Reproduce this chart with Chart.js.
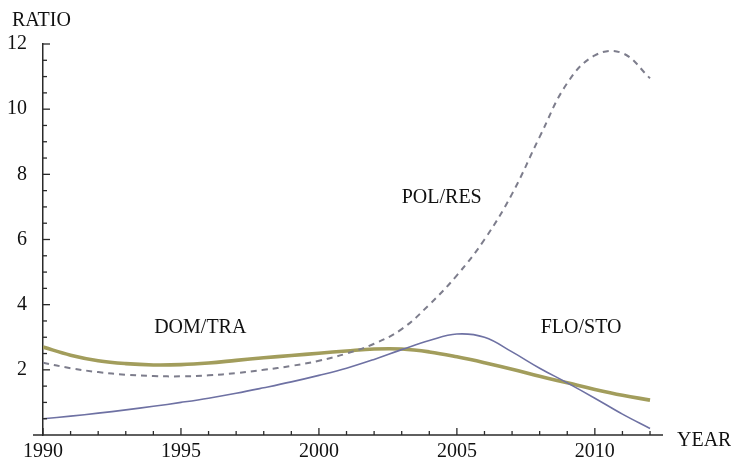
<!DOCTYPE html>
<html>
<head>
<meta charset="utf-8">
<script src="https://cdn.jsdelivr.net/npm/chart.js@4"></script>
<style>
  html, body { margin: 0; padding: 0; background: #fff; }
  #wrap { width: 731px; height: 459px; }
</style>
</head>
<body>
<div id="wrap"><canvas id="chart" width="731" height="459"></canvas></div>
<script>
"use strict";

const years = [1990, 1991, 1992, 1993, 1994, 1995, 1996, 1997, 1998, 1999, 2000,
  2001, 2002, 2003, 2004, 2005, 2006, 2007, 2008, 2009, 2010, 2011, 2012];

const floSto = [0.50, 0.58, 0.67, 0.77, 0.88, 1.00, 1.13, 1.28, 1.45, 1.63, 1.83,
  2.05, 2.32, 2.62, 2.90, 3.10, 3.00, 2.55, 2.05, 1.60, 1.13, 0.64, 0.20];

const domTra = [2.70, 2.45, 2.28, 2.19, 2.15, 2.16, 2.21, 2.29, 2.37, 2.44, 2.51,
  2.58, 2.64, 2.64, 2.55, 2.40, 2.22, 2.02, 1.80, 1.60, 1.40, 1.22, 1.07];

const polRes = [2.22, 2.05, 1.93, 1.85, 1.81, 1.80, 1.83, 1.90, 2.00, 2.12, 2.28,
  2.50, 2.80, 3.25, 4.00, 4.90, 6.00, 7.40, 9.15, 10.80, 11.65, 11.72, 10.95];

const xTickLabels = [1990, 1995, 2000, 2005, 2010];
const yTickLabels = [2, 4, 6, 8, 10, 12];

// curve names written inside the plot, at data coordinates
const curveLabels = [
  { text: "DOM/TRA", x: 1995.7, y: 3.3 },
  { text: "POL/RES", x: 2004.45, y: 7.27 },
  { text: "FLO/STO", x: 2009.5, y: 3.28 },
];

const FONT = "'Liberation Serif', 'Times New Roman', serif";
const AXIS_COLOR = "#2a2a2a";

/** @type {(data: number[]) => {x: number, y: number}[]} */
const toPoints = (data) => data.map((v, i) => ({ x: years[i], y: v }));

const axisDecor = {
  id: "axisDecor",
  afterDraw: (chart) => {
    const { ctx, chartArea } = chart;
    const xs = chart.scales.x;
    const ys = chart.scales.y;
    const x0 = chartArea.left;
    const y0 = chartArea.bottom;

    ctx.save();
    ctx.strokeStyle = AXIS_COLOR;
    ctx.lineWidth = 1.5;

    // x axis runs a little past both ends
    ctx.beginPath();
    ctx.moveTo(x0 - 10, y0);
    ctx.lineTo(chartArea.right, y0);
    ctx.stroke();

    // inward tick marks, minor every year / 0.5
    ctx.lineWidth = 1.3;
    for (let yr = 1990; yr <= 2012; yr++) {
      const px = xs.getPixelForValue(yr);
      const len = yr % 5 === 0 ? 7 : 4;
      ctx.beginPath();
      ctx.moveTo(px, y0);
      ctx.lineTo(px, y0 - len);
      ctx.stroke();
    }
    for (let v = 0.5; v <= 12; v += 0.5) {
      const py = ys.getPixelForValue(v);
      const len = v % 2 === 0 ? 7 : 4;
      ctx.beginPath();
      ctx.moveTo(x0, py);
      ctx.lineTo(x0 + len, py);
      ctx.stroke();
    }

    ctx.fillStyle = "#111";
    ctx.font = `20px ${FONT}`;
    ctx.textBaseline = "middle";

    ctx.textAlign = "left";
    ctx.fillText("RATIO", 12, 21);
    ctx.fillText("YEAR", 677, 441);

    ctx.textAlign = "center";
    curveLabels.forEach(({ text, x, y }) => {
      ctx.fillText(text, xs.getPixelForValue(x), ys.getPixelForValue(y));
    });
    ctx.restore();
  },
};

const main = () => {
  const canvas = document.getElementById("chart");
  if (!(canvas instanceof HTMLCanvasElement)) throw new Error();

  new Chart(canvas, {
    type: "line",
    data: {
      datasets: [
        {
          label: "POL/RES",
          data: toPoints(polRes),
          borderColor: "#7d7d8c",
          borderWidth: 2,
          borderDash: [6, 5],
        },
        {
          label: "FLO/STO",
          data: toPoints(floSto),
          borderColor: "#6e71a3",
          borderWidth: 1.6,
        },
        {
          label: "DOM/TRA",
          data: toPoints(domTra),
          borderColor: "#a29d5c",
          borderWidth: 3.6,
        },
      ],
    },
    options: {
      responsive: false,
      animation: false,
      elements: { point: { radius: 0 }, line: { tension: 0.4 } },
      layout: { padding: { top: 44, right: 68, left: 0, bottom: 0 } },
      plugins: { legend: { display: false }, tooltip: { enabled: false } },
      scales: {
        x: {
          type: "linear",
          min: 1990,
          max: 2012.47,
          grid: { display: false },
          border: { display: false },
          afterBuildTicks: (axis) => {
            axis.ticks = xTickLabels.map((value) => ({ value }));
          },
          afterFit: (axis) => {
            axis.height = 24;
          },
          ticks: {
            padding: -3,
            maxRotation: 0,
            color: "#111",
            font: { family: FONT, size: 20 },
            callback: (v) => String(v),
          },
        },
        y: {
          min: 0,
          max: 12,
          grid: { display: false },
          border: { display: true, color: AXIS_COLOR, width: 1.5 },
          afterBuildTicks: (axis) => {
            axis.ticks = yTickLabels.map((value) => ({ value }));
          },
          afterFit: (axis) => {
            axis.width = 43;
          },
          ticks: {
            padding: 8,
            color: "#111",
            font: { family: FONT, size: 20 },
          },
        },
      },
    },
    plugins: [axisDecor],
  });
};

main();
</script>
</body>
</html>
